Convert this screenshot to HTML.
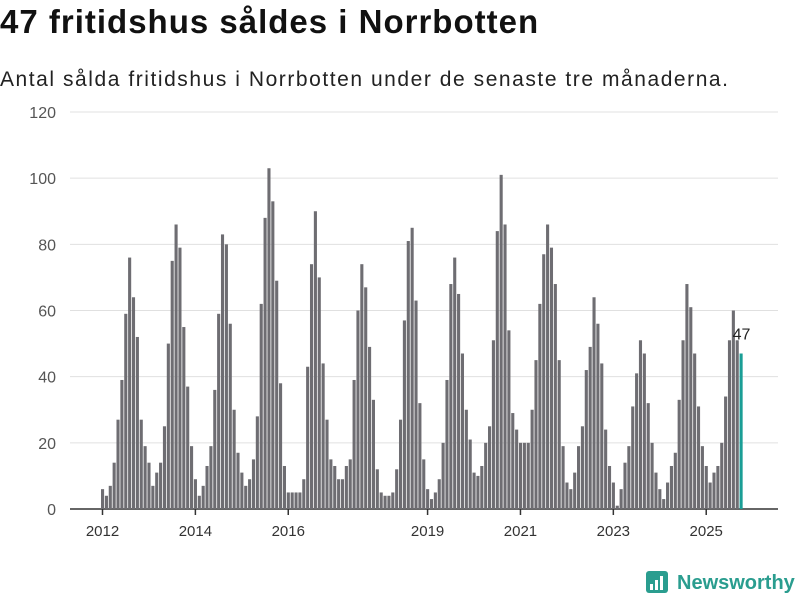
<!DOCTYPE html>
<html><head><meta charset="utf-8"><style>
body{margin:0;background:#fff;font-family:"Liberation Sans",sans-serif;}
#wrap{position:relative;width:800px;height:600px;overflow:hidden;}
h1{position:absolute;left:0;top:3px;margin:0;font-size:33px;font-weight:bold;color:#111;letter-spacing:1px;white-space:nowrap;}
p.sub{position:absolute;left:0;top:68px;margin:0;font-size:21px;color:#222;letter-spacing:1.55px;white-space:nowrap;}
</style></head><body>
<div id="wrap">
<h1>47 fritidshus såldes i Norrbotten</h1>
<p class="sub">Antal sålda fritidshus i Norrbotten under de senaste tre månaderna.</p>
<svg id="chart" width="800" height="600" style="position:absolute;left:0;top:0"></svg>
</div>
<script>
const years=[2012,2013,2014,2015,2016,2017,2018,2019,2020,2021,2022,2023,2024,2025];
const values=[
6,4,7,14,27,39,59,76,64,52,27,19,
14,7,11,14,25,50,75,86,79,55,37,19,
9,4,7,13,19,36,59,83,80,56,30,17,
11,7,9,15,28,62,88,103,93,69,38,13,
5,5,5,5,9,43,74,90,70,44,27,15,
13,9,9,13,15,39,60,74,67,49,33,12,
5,4,4,5,12,27,57,81,85,63,32,15,
6,3,5,9,20,39,68,76,65,47,30,21,
11,10,13,20,25,51,84,101,86,54,29,24,
20,20,20,30,45,62,77,86,79,68,45,19,
8,6,11,19,25,42,49,64,56,44,24,13,
8,1,6,14,19,31,41,51,47,32,20,11,
6,3,8,13,17,33,51,68,61,47,31,19,
13,8,11,13,20,34,51,60,51,47];
const yTicks=[0,20,40,60,80,100,120];
const xTickYears=[2012,2014,2016,2019,2021,2023,2025];
const startYear=2012;

const svg=document.getElementById('chart');
const NS='http://www.w3.org/2000/svg';
const y0=509,yTop=112,yMax=120;
const y=v=>y0-(v/yMax)*(y0-yTop);
const step=3.87,x0=101;
const x=i=>x0+i*step;
function mk(t,a){const e=document.createElementNS(NS,t);for(const k in a)e.setAttribute(k,a[k]);svg.appendChild(e);return e;}
yTicks.forEach(t=>{
  const g=mk('line',{x1:70,x2:778,y1:y(t),y2:y(t),stroke:t===0?'#333':'#e0e0e0','stroke-width':t===0?1.5:1});
  
  
  const l=mk('text',{x:56,y:y(t)+6,'text-anchor':'end','font-size':16,fill:'#555','font-family':'Liberation Sans, sans-serif'});
  l.textContent=t;
  
  
});
values.forEach((v,i)=>{
  const last=i===values.length-1;
  const r=mk('rect',{x:x(i),y:y(v),width:3.1,height:y0-y(v),fill:last?'#1a9e96':'#6e6d72'});
  
  
  if(last){
    const t=mk('text',{x:x(i)+2,y:y(v)-14,'text-anchor':'middle','font-size':16,fill:'#222','font-family':'Liberation Sans, sans-serif'});
    t.textContent=v;
    
    
  }
});
xTickYears.forEach(yr=>{
  const i=(yr-startYear)*12;
  const cx=x(i)+1.5;
  const tk=mk('line',{x1:cx,x2:cx,y1:y0,y2:y0+6,stroke:'#333','stroke-width':1.5});
  
  
  const l=mk('text',{x:cx,y:536,'text-anchor':'middle','font-size':15,fill:'#333','font-family':'Liberation Sans, sans-serif'});
  l.textContent=yr;
  
  
});
const lg=mk('rect',{x:646,y:571,width:22,height:22,rx:3,fill:'#2a9d8f'});


[[650,584,3,6],[655,580,3,10],[660,576,3,14]].forEach(b=>{
  const r=mk('rect',{x:b[0],y:b[1],width:b[2],height:b[3],fill:'#fff'});
  
  
});
const lt=mk('text',{x:677,y:589,'font-size':20,'font-weight':'bold',fill:'#2a9d8f','font-family':'Liberation Sans, sans-serif'});
lt.textContent='Newsworthy';


</script>
</body></html>
